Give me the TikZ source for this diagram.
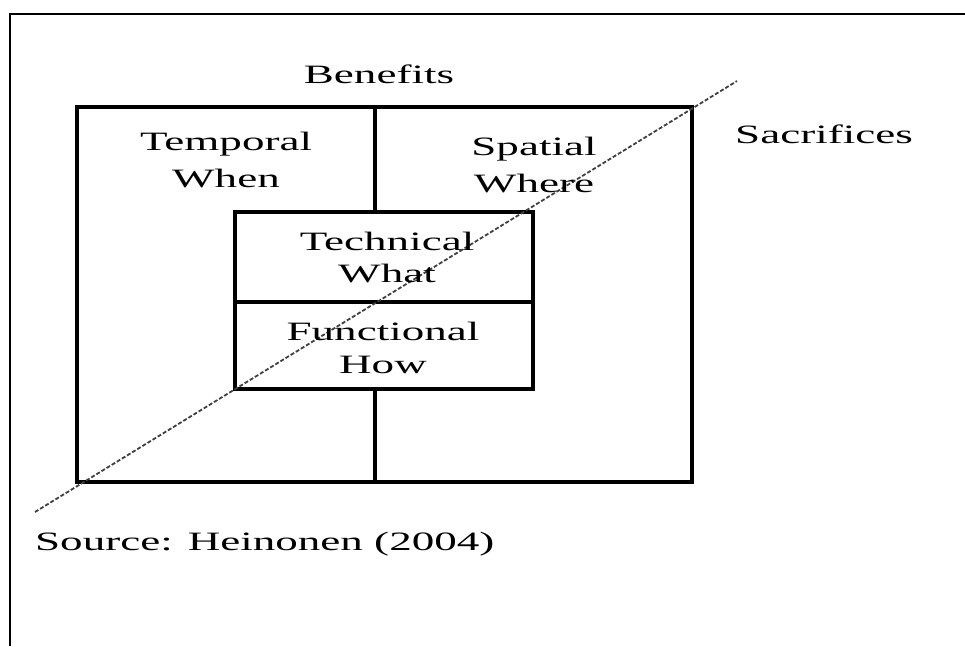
\documentclass[tikz,border=0pt]{standalone}
\usepackage{fontspec}
\setmainfont{Liberation Serif}[FakeStretch=1.7]
\begin{document}
\begin{tikzpicture}[x=1pt,y=-1pt,
  lbl/.style={inner sep=0pt, align=center, font=\fontsize{26.5}{32}\selectfont, anchor=base},
  box/.style={draw, line width=3.3pt, inner sep=0pt},
  divider/.style={line width=3.3pt},
  split/.style={draw=black!75, line width=1.8pt, dash pattern=on 4pt off 2pt}]
\useasboundingbox (0,0) rectangle (965,646);
\fill[white] (0,0) rectangle (965,646);
\coordinate (ftr) at (965,14);
\coordinate (ftl) at (10,14);
\coordinate (fbl) at (10,646);
\draw[line width=2.2pt] (ftr) -- (ftl) -- (fbl);
\node[box, minimum width=615pt, minimum height=375pt] (big) at (384.5,294.5) {};
\node[box, minimum width=298pt, minimum height=177pt, fill=white] (inner) at (384,300.5) {};
\coordinate (vx) at (375,0);
\coordinate (hy) at (0,302);
\draw[divider] (big.north -| vx) -- (inner.north -| vx);
\draw[divider] (inner.south -| vx) -- (big.south -| vx);
\draw[divider] (inner.west |- hy) -- (inner.east |- hy);
\coordinate (d1) at (35,512);
\coordinate (d2) at (737,81);
\draw[split] (d1) -- (d2);
\node[lbl] (benefits) at (379,83) {Benefits};
\node[lbl] (sacrifices) at (824,143) {Sacrifices};
\node[lbl] (temporal) at (226,187) {Temporal\\[5pt]When};
\node[lbl] (spatial) at (534,192) {Spatial\\[5pt]Where};
\node[lbl] (technical) at (387,282) {Technical\\What};
\node[lbl] (functional) at (383,373) {Functional\\[1pt]How};
\node[lbl, anchor=base west] (source) at (35,550) {Source: Heinonen (2004)};
\end{tikzpicture}
\end{document}
